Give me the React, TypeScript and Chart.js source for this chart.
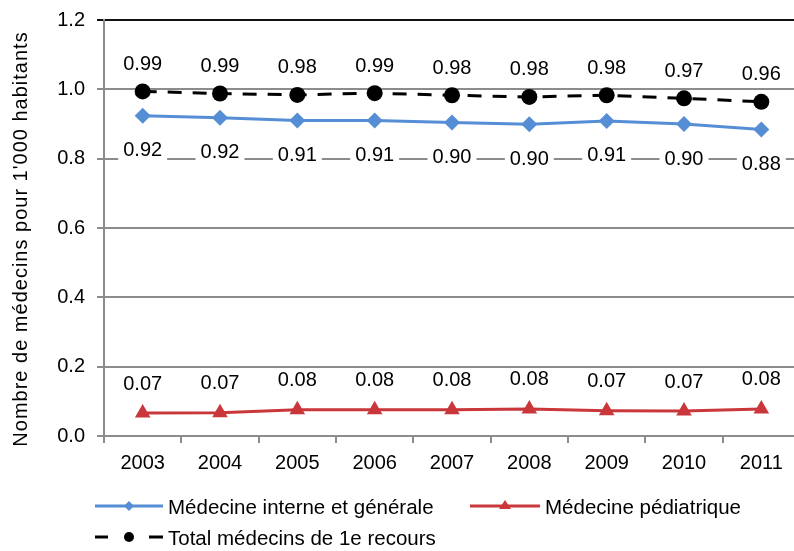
import React, { useEffect, useRef } from "react";
import { Chart, registerables } from "chart.js";

Chart.register(...registerables);

const years = ["2003", "2004", "2005", "2006", "2007", "2008", "2009", "2010", "2011"];
const interne = [0.924, 0.918, 0.91, 0.91, 0.904, 0.899, 0.909, 0.9, 0.884];
const pediatrique = [0.066, 0.067, 0.076, 0.076, 0.076, 0.078, 0.073, 0.072, 0.078];
const total = [0.994, 0.988, 0.984, 0.989, 0.983, 0.978, 0.983, 0.974, 0.964];

const seriesNames = ["Médecine interne et générale", "Médecine pédiatrique", "Total médecins de 1e recours"];
const yTitle = "Nombre de médecins pour 1'000 habitants";

const BLUE = "#558ED5";
const RED = "#C9373A";
const BLACK = "#000000";
const GRID = "#8C8C8C";
const FONT = "'Liberation Sans', Arial, sans-serif";

const labelOffsets = [35, -29, -27];

const labelPlugin = {
  id: "valueLabels",
  beforeDatasetsDraw(chart: any) {
    const ctx = chart.ctx;
    ctx.save();
    ctx.font = `20px ${FONT}`;
    ctx.textAlign = "center";
    ctx.textBaseline = "middle";
    chart.data.datasets.forEach((ds: any, i: number) => {
      const meta = chart.getDatasetMeta(i);
      meta.data.forEach((pt: any, j: number) => {
        const txt = (ds.data[j] as number).toFixed(2);
        const x = pt.x;
        const y = pt.y + labelOffsets[i];
        const w = ctx.measureText(txt).width + 10;
        ctx.fillStyle = "#fff";
        ctx.fillRect(x - w / 2, y - 11, w, 22);
        ctx.fillStyle = "#000";
        ctx.fillText(txt, x, y);
      });
    });
    ctx.restore();
  },
  afterDraw(chart: any) {
    const ctx = chart.ctx;
    ctx.save();
    // y-axis title
    ctx.translate(27, 239);
    ctx.rotate(-Math.PI / 2);
    ctx.font = `20px ${FONT}`;
    (ctx as any).letterSpacing = "1px";
    ctx.fillStyle = "#000";
    ctx.textAlign = "center";
    ctx.textBaseline = "alphabetic";
    ctx.fillText(yTitle, 0, 0);
    ctx.restore();

    // legend
    ctx.save();
    ctx.font = `20.5px ${FONT}`;
    ctx.textBaseline = "middle";
    ctx.textAlign = "left";
    ctx.fillStyle = "#000";
    // row 1 blue
    const r1 = 506;
    ctx.strokeStyle = BLUE;
    ctx.lineWidth = 3;
    ctx.beginPath();
    ctx.moveTo(95, r1);
    ctx.lineTo(163, r1);
    ctx.stroke();
    ctx.fillStyle = BLUE;
    ctx.beginPath();
    ctx.moveTo(129, r1 - 5);
    ctx.lineTo(134, r1);
    ctx.lineTo(129, r1 + 5);
    ctx.lineTo(124, r1);
    ctx.closePath();
    ctx.fill();
    ctx.fillStyle = "#000";
    ctx.fillText(seriesNames[0], 168, r1 + 2);
    // red
    ctx.strokeStyle = RED;
    ctx.beginPath();
    ctx.moveTo(470, r1);
    ctx.lineTo(540, r1);
    ctx.stroke();
    ctx.fillStyle = RED;
    ctx.beginPath();
    ctx.moveTo(505, r1 - 6);
    ctx.lineTo(511, r1 + 3);
    ctx.lineTo(499, r1 + 3);
    ctx.closePath();
    ctx.fill();
    ctx.fillStyle = "#000";
    ctx.fillText(seriesNames[1], 545, r1 + 2);
    // row 2 black
    const r2 = 537;
    ctx.strokeStyle = BLACK;
    ctx.lineWidth = 3;
    ctx.beginPath();
    ctx.moveTo(95, r2);
    ctx.lineTo(108, r2);
    ctx.moveTo(149, r2);
    ctx.lineTo(163, r2);
    ctx.stroke();
    ctx.fillStyle = BLACK;
    ctx.beginPath();
    ctx.arc(129, r2, 5, 0, Math.PI * 2);
    ctx.fill();
    ctx.fillText(seriesNames[2], 168, r2 + 2);
    ctx.restore();
  },
};

export default function App() {
  const ref = useRef<HTMLCanvasElement>(null);
  useEffect(() => {
    if (!ref.current) return;
    const chart = new Chart(ref.current, {
      type: "line",
      data: {
        labels: years,
        datasets: [
          {
            label: seriesNames[0],
            data: interne,
            borderColor: BLUE,
            backgroundColor: BLUE,
            borderWidth: 3,
            pointStyle: "rectRot",
            pointRadius: 8,
            pointBorderWidth: 0,
            tension: 0,
          },
          {
            label: seriesNames[1],
            data: pediatrique,
            borderColor: RED,
            backgroundColor: RED,
            borderWidth: 3,
            pointStyle: "triangle",
            pointRadius: 9,
            pointBorderWidth: 0,
            tension: 0,
          },
          {
            label: seriesNames[2],
            data: total,
            borderColor: BLACK,
            backgroundColor: BLACK,
            borderWidth: 3,
            borderDash: [14, 11],
            pointStyle: "circle",
            pointRadius: 8,
            pointBorderWidth: 0,
            tension: 0,
          },
        ],
      },
      options: {
        responsive: false,
        animation: false,
        events: [],
        layout: { padding: { top: 20, right: 10, left: 0, bottom: 0 } },
        plugins: { legend: { display: false }, tooltip: { enabled: false } },
        scales: {
          x: {
            type: "category",
            offset: true,
            grid: {
              offset: true,
              drawOnChartArea: false,
              drawTicks: true,
              tickLength: 7,
              color: GRID,
              lineWidth: 2,
            },
            border: { color: GRID, width: 2 },
            ticks: { color: "#000", font: { size: 20, family: FONT }, padding: 8 },
            afterFit: (s: any) => {
              s.height = 115;
              s.paddingLeft = 0;
              s.paddingRight = 0;
            },
          },
          y: {
            min: 0,
            max: 1.2,
            ticks: {
              stepSize: 0.2,
              color: "#000",
              font: { size: 20, family: FONT },
              padding: 12,
              callback: (v: any) => Number(v).toFixed(1),
            },
            grid: {
              color: (c: any) => (c.tick && Math.abs(c.tick.value - 1.2) < 1e-6 ? "#111" : GRID),
              lineWidth: 2,
              tickLength: 7,
            },
            border: { color: GRID, width: 2 },
            afterFit: (s: any) => {
              s.width = 104;
              s.paddingTop = 0;
              s.paddingBottom = 0;
            },
          },
        },
      },
      plugins: [labelPlugin],
    });
    return () => chart.destroy();
  }, []);
  return (
    <div style={{ position: "absolute", left: 0, top: 0, width: 810, height: 551, overflow: "hidden" }}>
      <canvas ref={ref} width={810} height={551} style={{ display: "block" }} />
    </div>
  );
}
